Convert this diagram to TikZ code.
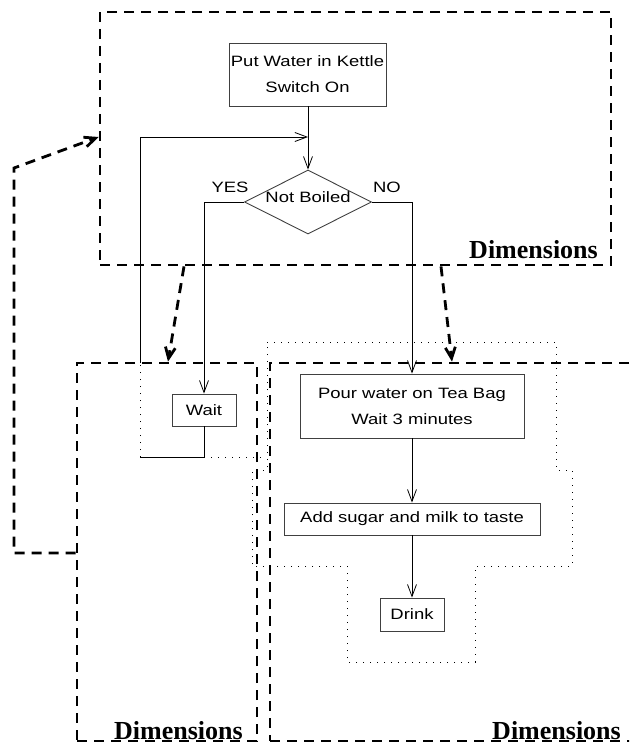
\documentclass[tikz,border=0pt]{standalone}
\usepackage{graphicx}
\usepackage{fontspec}
\setmainfont{Liberation Serif}
\setsansfont{Liberation Sans}
\usetikzlibrary{arrows.meta,shapes.geometric}

% wide sans lettering used in the flow chart boxes
\newcommand{\widetext}[1]{\scalebox{1.23}[1]{#1}}

\tikzset{
  procbox/.style={draw=black!75, line width=0.9pt, inner sep=0pt, align=center,
    font=\sffamily\fontsize{15}{26}\selectfont},
  decision/.style={draw=black!75, line width=0.9pt, diamond, aspect=2, inner sep=0pt,
    font=\sffamily\fontsize{15}{18}\selectfont},
  branchlabel/.style={inner sep=0pt, font=\sffamily\fontsize{15}{18}\selectfont},
  flow/.style={line width=0.8pt, -{Straight Barb[length=12pt,width=9pt]}},
  plainline/.style={line width=0.8pt},
  dimbox/.style={draw, line width=2.8pt, dash pattern=on 10pt off 7pt, inner sep=0pt},
  dimarrow/.style={line width=2.8pt, dash pattern=on 10pt off 7pt,
    -{Straight Barb[length=11pt,width=10pt,line width=2.8pt]}},
  dimlabel/.style={font=\bfseries\fontsize{26}{26}\selectfont, anchor=base east, inner sep=0pt},
  extent/.style={line width=0.8pt, dash pattern=on 1pt off 6pt},
}

\begin{document}
\begin{tikzpicture}[x=1pt, y=-1pt, line join=miter]
  \path[use as bounding box, clip] (0,0) rectangle (629,746);

  % dimension frames
  \node[dimbox, minimum width=511pt, minimum height=253pt] (dimTop) at (355.5,138.5) {};
  \node[dimbox, minimum width=180pt, minimum height=378pt] (dimL) at (167,552) {};
  \node[dimbox, minimum width=390pt, minimum height=378pt] (dimR) at (465,552) {};
  \node[dimlabel] (dimTopLbl) at (598,258) {Dimensions};
  \node[dimlabel] (dimLLbl) at (243,739) {Dimensions};
  \node[dimlabel] (dimRLbl) at (621,739) {Dimensions};

  % dotted extents
  \draw[extent] (267,342) -- (556,342) -- (556,470) -- (572,470) -- (572,566)
    -- (475,566) -- (475,662) -- (347,662) -- (347,566) -- (252,566) -- (252,470)
    -- (267,470) -- cycle;

  % process steps
  \node[procbox, minimum width=157pt, minimum height=63pt] (kettle) at (307.5,74.5)
    {\widetext{Put Water in Kettle}\\\widetext{Switch On}};
  \node[decision, minimum width=127pt, minimum height=64pt] (boil) at (308,202)
    {\raisebox{0pt}[0pt][0pt]{\widetext{Not Boiled}}};
  \node[procbox, minimum width=64pt, minimum height=32pt] (wait) at (204,410)
    {\widetext{Wait}};
  \node[procbox, minimum width=224pt, minimum height=64pt] (pour) at (412,406)
    {\widetext{Pour water on Tea Bag}\\\widetext{Wait 3 minutes}};
  \node[procbox, minimum width=256pt, minimum height=32pt] (sugar) at (412,519)
    {\widetext{Add sugar and milk to taste}};
  \node[procbox, minimum width=64pt, minimum height=33pt] (drink) at (412,614.5)
    {\widetext{Drink}};

  \node[branchlabel] (yes) at (230,187) {\widetext{YES}};
  \node[branchlabel] (no) at (387,187) {\widetext{NO}};

  % flow connectors
  \draw[flow] (kettle.south -| boil.north) -- (boil.north);
  \draw[flow] (boil.west) -| (wait.north);
  \draw[flow] (boil.east) -| (pour.north);
  \draw[flow] (pour) -- (sugar);
  \draw[flow] (sugar) -- (drink);

  % loop back from Wait
  \coordinate (loopB) at (wait.south |- 0,457);
  \coordinate (loopC) at (140,457);
  \coordinate (loopD) at (140,363);
  \coordinate (loopE) at (140,137);
  \coordinate (join) at (boil.north |- 0,137);
  \draw[plainline] (wait.south) -- (loopB) -- (loopC);
  \draw[extent] (loopC) -- (loopD);
  \draw[extent] (loopB) -- (267,457);
  \draw[flow] (loopD) -- (loopE) -- (join);

  % dimension links
  \draw[dimarrow] (dimTop.south -| 184,0) -- (dimL.north -| 168,0);
  \draw[dimarrow] (dimTop.south -| 441,0) -- (dimR.north -| 452,0);
  \coordinate (fbA) at (14,553);
  \coordinate (fbB) at (14,168);
  \draw[dimarrow] (dimL.west |- 0,553) -- (fbA) -- (fbB) -- (dimTop.west |- 0,137);
\end{tikzpicture}
\end{document}
